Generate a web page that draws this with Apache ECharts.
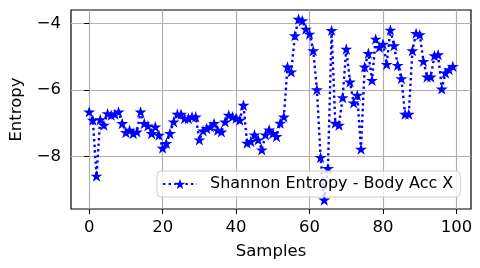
<!DOCTYPE html>
<html>
<head>
<meta charset="utf-8">
<script src="https://cdn.jsdelivr.net/npm/echarts@6/dist/echarts.min.js"></script>
<style>
html,body{margin:0;padding:0;background:#fff;}
#chart{width:480px;height:268px;}
</style>
</head>
<body>
<div id="chart"></div>
<script>
// ---- data ----
var seriesName = 'Shannon Entropy - Body Acc X';
var xTicks = [0, 20, 40, 60, 80, 100];
var yTicks = [-8, -6, -4];
var entropy = [
  -6.65, -6.90, -8.58, -6.88, -7.05, -6.70, -6.75, -6.72, -6.65, -7.00,
  -7.27, -7.20, -7.30, -7.25, -6.65, -7.00, -7.07, -7.30, -7.10, -7.35,
  -7.74, -7.60, -7.30, -6.95, -6.72, -6.72, -6.85, -6.85, -6.80, -6.80,
  -7.49, -7.22, -7.15, -7.10, -7.00, -7.20, -7.25, -6.95, -6.75, -6.80,
  -6.84, -6.90, -6.45, -7.59, -7.54, -7.34, -7.49, -7.79, -7.34, -7.19,
  -7.30, -7.39, -6.99, -6.80, -5.30, -5.45, -4.36, -3.86, -3.91, -4.16,
  -4.31, -4.81, -5.98, -8.02, -9.30, -8.35, -4.20, -6.99, -7.05, -6.22,
  -4.76, -5.75, -6.38, -6.15, -7.77, -5.30, -4.89, -5.70, -4.46, -4.71,
  -4.61, -5.22, -4.19, -4.66, -5.25, -5.65, -6.72, -6.72, -4.81, -4.29,
  -4.33, -5.13, -5.60, -5.60, -4.96, -4.93, -5.96, -5.48, -5.38, -5.28
];

// ---- build ----
var pts = entropy.map(function (v, i) { return [i, v]; });
var xLo = 0, xHi = entropy.length - 1;
var xPad = (xHi - xLo) * 0.05;
var yLo = Math.min.apply(null, entropy), yHi = Math.max.apply(null, entropy);
var yPad = (yHi - yLo) * 0.05;

var starPath = 'path://M100,0 L122.5,69.1 L195.1,69.1 L136.3,111.8 L158.8,180.9 L100,138.2 L41.2,180.9 L63.7,111.8 L4.9,69.1 L77.5,69.1 Z';
var FONT = 'DejaVu Sans';
var FS = 16.5;

function fmtNum(v) { return v < 0 ? '\u2212' + Math.abs(v) : String(v); }

var chart = echarts.init(document.getElementById('chart'), null, {renderer: 'canvas'});
chart.setOption({
  animation: false,
  backgroundColor: '#ffffff',
  textStyle: {fontFamily: FONT},
  grid: {
    left: 70, top: 10, width: 401, height: 199,
    show: true, borderColor: '#000', borderWidth: 1.2, backgroundColor: 'transparent'
  },
  xAxis: {
    type: 'value',
    min: xLo - xPad, max: xHi + xPad,
    name: 'Samples', nameLocation: 'middle', nameGap: 34,
    nameTextStyle: {fontFamily: FONT, fontSize: FS, color: '#000'},
    axisLine: {show: false},
    axisTick: {show: true, length: 5, lineStyle: {color: '#000', width: 1}, customValues: xTicks},
    axisLabel: {show: true, margin: 10, fontFamily: FONT, fontSize: FS, color: '#000', customValues: xTicks, formatter: fmtNum},
    splitLine: {show: true, lineStyle: {color: '#b0b0b0', width: 1.2}}
  },
  yAxis: {
    type: 'value',
    min: yLo - yPad, max: yHi + yPad,
    name: 'Entropy', nameLocation: 'middle', nameGap: 46, nameRotate: 90,
    nameTextStyle: {fontFamily: FONT, fontSize: FS, color: '#000'},
    axisLine: {show: false},
    axisTick: {show: true, length: 5, lineStyle: {color: '#000', width: 1}, customValues: yTicks},
    axisLabel: {show: true, margin: 10, fontFamily: FONT, fontSize: FS, color: '#000', customValues: yTicks, formatter: fmtNum},
    splitLine: {show: true, lineStyle: {color: '#b0b0b0', width: 1.2}}
  },
  legend: {
    show: true,
    left: 157, top: 171,
    orient: 'horizontal',
    padding: [5, 7, 5, 5],
    itemWidth: 34, itemHeight: 13,
    backgroundColor: 'rgba(255,255,255,0.8)',
    borderColor: '#cccccc', borderWidth: 1, borderRadius: 4,
    textStyle: {fontFamily: FONT, fontSize: 16, color: '#000', padding: [0, 0, 0, 8]},
    data: [seriesName],
    z: 10
  },
  series: [{
    name: seriesName,
    type: 'line',
    data: pts,
    symbol: starPath,
    symbolSize: [12, 11.4],
    showSymbol: true,
    itemStyle: {color: '#0000ff', borderWidth: 0},
    lineStyle: {color: '#0000ff', width: 2.4, type: [2.4, 3.2], cap: 'butt'},
    z: 3
  }]
});
</script>
</body>
</html>
